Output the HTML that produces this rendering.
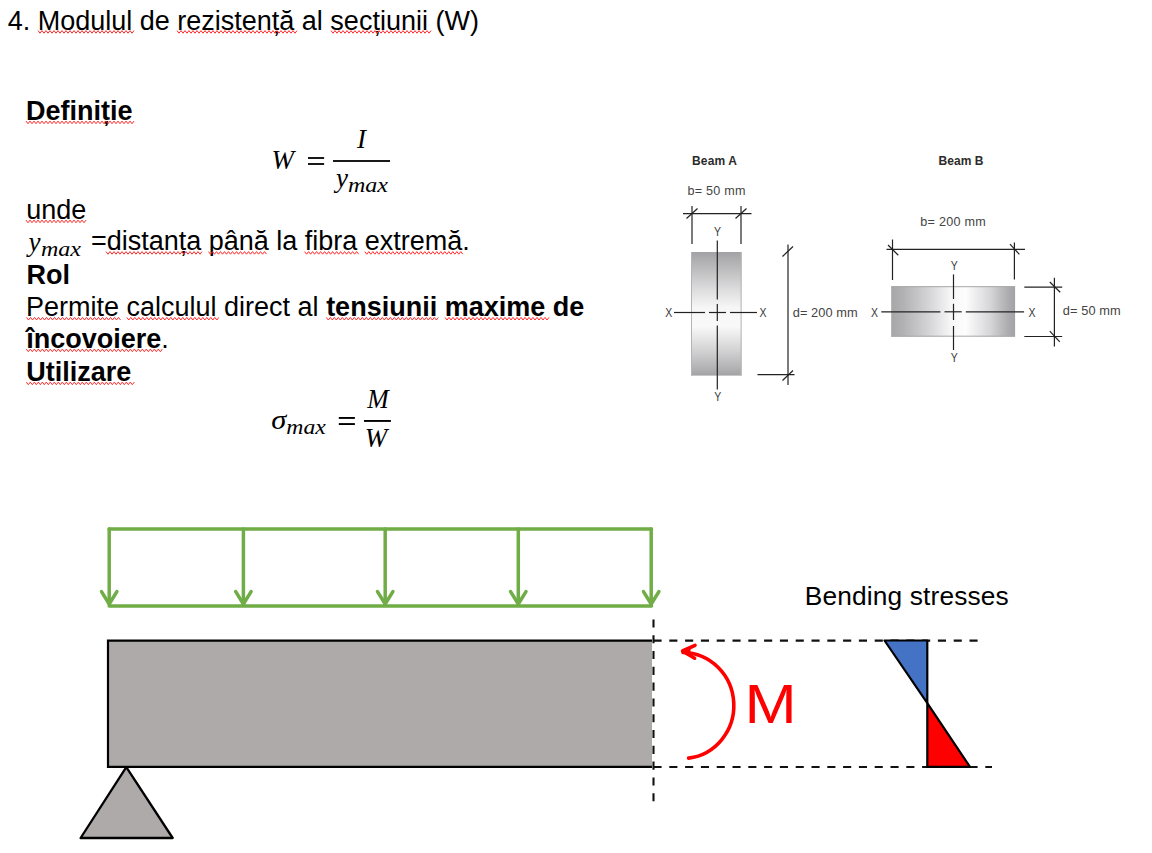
<!DOCTYPE html>
<html><head><meta charset="utf-8">
<style>
html,body{margin:0;padding:0;background:#fff;width:1152px;height:853px;overflow:hidden}
svg{display:block}
.s{font-family:"Liberation Sans",sans-serif}
.r{font-family:"Liberation Serif",serif;font-style:italic}
</style></head>
<body>
<svg width="1152" height="853" viewBox="0 0 1152 853">
<defs>
<linearGradient id="ga" x1="0" y1="0" x2="0" y2="1">
<stop offset="0" stop-color="#a2a2a4"/>
<stop offset="0.12" stop-color="#b9b9bb"/>
<stop offset="0.3" stop-color="#dcdcdd"/>
<stop offset="0.45" stop-color="#f6f6f6"/>
<stop offset="0.6" stop-color="#f9f9f9"/>
<stop offset="0.8" stop-color="#d2d2d3"/>
<stop offset="0.93" stop-color="#b4b4b6"/>
<stop offset="1" stop-color="#a2a2a4"/>
</linearGradient>
<linearGradient id="gb" x1="0" y1="0" x2="1" y2="0">
<stop offset="0" stop-color="#a6a6a8"/>
<stop offset="0.1" stop-color="#b2b2b4"/>
<stop offset="0.3" stop-color="#d4d4d6"/>
<stop offset="0.48" stop-color="#f6f6f6"/>
<stop offset="0.6" stop-color="#fdfdfd"/>
<stop offset="0.8" stop-color="#d6d6d8"/>
<stop offset="0.93" stop-color="#b0b0b2"/>
<stop offset="1" stop-color="#a2a2a4"/>
</linearGradient>
</defs>

<!-- Title -->
<text class="s" x="7.7" y="30" font-size="27">4. Modulul de rezistență al secțiunii (W)</text>

<text class="s" x="26" y="119.5" font-size="27" font-weight="bold">Definiție</text>

<!-- formula 1 -->
<text class="r" x="271.5" y="168.8" font-size="27">W</text>
<rect x="308" y="157.1" width="16.1" height="1.8"/>
<rect x="308" y="163.1" width="16.1" height="1.8"/>
<rect x="333" y="160.1" width="57" height="1.8"/>
<text class="r" x="357.1" y="148" font-size="27">I</text>
<text class="r" x="336.1" y="187" font-size="27">y</text>
<text class="r" x="348" y="191.8" font-size="20.5" textLength="40" lengthAdjust="spacingAndGlyphs">max</text>

<text class="s" x="26.2" y="219" font-size="27">unde</text>

<text class="r" x="28.6" y="251.2" font-size="27">y</text>
<text class="r" x="41" y="255.7" font-size="20.5" textLength="40" lengthAdjust="spacingAndGlyphs">max</text>
<text class="s" x="90.9" y="250" font-size="27">=distanța până la fibra extremă.</text>

<text class="s" x="26.4" y="284" font-size="27" font-weight="bold">Rol</text>
<text class="s" x="26" y="316" font-size="27">Permite calculul direct al <tspan font-weight="bold">tensiunii maxime de</tspan></text>
<text class="s" x="26.2" y="348" font-size="27"><tspan font-weight="bold">încovoiere</tspan>.</text>
<text class="s" x="26.2" y="381" font-size="27" font-weight="bold">Utilizare</text>

<!-- formula 2 -->
<text class="r" x="271.3" y="429.2" font-size="28" textLength="15" lengthAdjust="spacingAndGlyphs">σ</text>
<text class="r" x="286.3" y="434" font-size="20.5" textLength="39.5" lengthAdjust="spacingAndGlyphs">max</text>
<rect x="338.8" y="417" width="16.1" height="1.9"/>
<rect x="338.8" y="423.1" width="16.1" height="1.9"/>
<rect x="364" y="420" width="26.9" height="1.9"/>
<text class="r" x="367.3" y="408" font-size="27" textLength="21.5" lengthAdjust="spacingAndGlyphs">M</text>
<text class="r" x="364.7" y="446.8" font-size="27">W</text>

<!-- wavy underlines -->
<g fill="none" stroke="#ff2a2a" stroke-width="1">
<polyline points="38.0,30.6 40.0,33.2 42.0,30.6 44.0,33.2 46.0,30.6 48.0,33.2 50.0,30.6 52.0,33.2 54.0,30.6 56.0,33.2 58.0,30.6 60.0,33.2 62.0,30.6 64.0,33.2 66.0,30.6 68.0,33.2 70.0,30.6 72.0,33.2 74.0,30.6 76.0,33.2 78.0,30.6 80.0,33.2 82.0,30.6 84.0,33.2 86.0,30.6 88.0,33.2 90.0,30.6 92.0,33.2 94.0,30.6 96.0,33.2 98.0,30.6 100.0,33.2 102.0,30.6 104.0,33.2 106.0,30.6 108.0,33.2 110.0,30.6 112.0,33.2 114.0,30.6 116.0,33.2 118.0,30.6 120.0,33.2 122.0,30.6 124.0,33.2 126.0,30.6 128.0,33.2 130.0,30.6 132.0,33.2 134.0,30.6"/>
<polyline points="177.0,30.6 179.0,33.2 181.0,30.6 183.0,33.2 185.0,30.6 187.0,33.2 189.0,30.6 191.0,33.2 193.0,30.6 195.0,33.2 197.0,30.6 199.0,33.2 201.0,30.6 203.0,33.2 205.0,30.6 207.0,33.2 209.0,30.6 211.0,33.2 213.0,30.6 215.0,33.2 217.0,30.6 219.0,33.2 221.0,30.6 223.0,33.2 225.0,30.6 227.0,33.2 229.0,30.6 231.0,33.2 233.0,30.6 235.0,33.2 237.0,30.6 239.0,33.2 241.0,30.6 243.0,33.2 245.0,30.6 247.0,33.2 249.0,30.6 251.0,33.2 253.0,30.6 255.0,33.2 257.0,30.6 259.0,33.2 261.0,30.6 263.0,33.2 265.0,30.6 267.0,33.2 269.0,30.6 271.0,33.2 273.0,30.6 275.0,33.2 277.0,30.6 279.0,33.2 281.0,30.6 283.0,33.2 285.0,30.6 287.0,33.2 289.0,30.6 291.0,33.2 293.0,30.6 295.0,33.2 297.0,30.6"/>
<polyline points="331.0,30.6 333.0,33.2 335.0,30.6 337.0,33.2 339.0,30.6 341.0,33.2 343.0,30.6 345.0,33.2 347.0,30.6 349.0,33.2 351.0,30.6 353.0,33.2 355.0,30.6 357.0,33.2 359.0,30.6 361.0,33.2 363.0,30.6 365.0,33.2 367.0,30.6 369.0,33.2 371.0,30.6 373.0,33.2 375.0,30.6 377.0,33.2 379.0,30.6 381.0,33.2 383.0,30.6 385.0,33.2 387.0,30.6 389.0,33.2 391.0,30.6 393.0,33.2 395.0,30.6 397.0,33.2 399.0,30.6 401.0,33.2 403.0,30.6 405.0,33.2 407.0,30.6 409.0,33.2 411.0,30.6 413.0,33.2 415.0,30.6 417.0,33.2 419.0,30.6 421.0,33.2 423.0,30.6 425.0,33.2 427.0,30.6 429.0,33.2 431.0,30.6"/>
<polyline points="26.0,121.1 28.0,123.7 30.0,121.1 32.0,123.7 34.0,121.1 36.0,123.7 38.0,121.1 40.0,123.7 42.0,121.1 44.0,123.7 46.0,121.1 48.0,123.7 50.0,121.1 52.0,123.7 54.0,121.1 56.0,123.7 58.0,121.1 60.0,123.7 62.0,121.1 64.0,123.7 66.0,121.1 68.0,123.7 70.0,121.1 72.0,123.7 74.0,121.1 76.0,123.7 78.0,121.1 80.0,123.7 82.0,121.1 84.0,123.7 86.0,121.1 88.0,123.7 90.0,121.1 92.0,123.7 94.0,121.1 96.0,123.7 98.0,121.1 100.0,123.7 102.0,121.1 104.0,123.7 106.0,121.1 108.0,123.7 110.0,121.1 112.0,123.7 114.0,121.1 116.0,123.7 118.0,121.1 120.0,123.7 122.0,121.1 124.0,123.7 126.0,121.1 128.0,123.7 130.0,121.1 132.0,123.7 134.0,121.1"/>
<polyline points="26.0,220.1 28.0,222.7 30.0,220.1 32.0,222.7 34.0,220.1 36.0,222.7 38.0,220.1 40.0,222.7 42.0,220.1 44.0,222.7 46.0,220.1 48.0,222.7 50.0,220.1 52.0,222.7 54.0,220.1 56.0,222.7 58.0,220.1 60.0,222.7 62.0,220.1 64.0,222.7 66.0,220.1 68.0,222.7 70.0,220.1 72.0,222.7 74.0,220.1 76.0,222.7 78.0,220.1 80.0,222.7 82.0,220.1 84.0,222.7 86.0,220.1"/>
<polyline points="106.0,251.6 108.0,254.2 110.0,251.6 112.0,254.2 114.0,251.6 116.0,254.2 118.0,251.6 120.0,254.2 122.0,251.6 124.0,254.2 126.0,251.6 128.0,254.2 130.0,251.6 132.0,254.2 134.0,251.6 136.0,254.2 138.0,251.6 140.0,254.2 142.0,251.6 144.0,254.2 146.0,251.6 148.0,254.2 150.0,251.6 152.0,254.2 154.0,251.6 156.0,254.2 158.0,251.6 160.0,254.2 162.0,251.6 164.0,254.2 166.0,251.6 168.0,254.2 170.0,251.6 172.0,254.2 174.0,251.6 176.0,254.2 178.0,251.6 180.0,254.2 182.0,251.6 184.0,254.2 186.0,251.6 188.0,254.2 190.0,251.6 192.0,254.2 194.0,251.6 196.0,254.2 198.0,251.6 200.0,254.2 202.0,251.6"/>
<polyline points="208.5,251.6 210.5,254.2 212.5,251.6 214.5,254.2 216.5,251.6 218.5,254.2 220.5,251.6 222.5,254.2 224.5,251.6 226.5,254.2 228.5,251.6 230.5,254.2 232.5,251.6 234.5,254.2 236.5,251.6 238.5,254.2 240.5,251.6 242.5,254.2 244.5,251.6 246.5,254.2 248.5,251.6 250.5,254.2 252.5,251.6 254.5,254.2 256.5,251.6 258.5,254.2 260.5,251.6 262.5,254.2 264.5,251.6 266.5,254.2"/>
<polyline points="304.6,251.6 306.6,254.2 308.6,251.6 310.6,254.2 312.6,251.6 314.6,254.2 316.6,251.6 318.6,254.2 320.6,251.6 322.6,254.2 324.6,251.6 326.6,254.2 328.6,251.6 330.6,254.2 332.6,251.6 334.6,254.2 336.6,251.6 338.6,254.2 340.6,251.6 342.6,254.2 344.6,251.6 346.6,254.2 348.6,251.6 350.6,254.2 352.6,251.6 354.6,254.2 356.6,251.6 358.6,254.2"/>
<polyline points="364.8,251.6 366.8,254.2 368.8,251.6 370.8,254.2 372.8,251.6 374.8,254.2 376.8,251.6 378.8,254.2 380.8,251.6 382.8,254.2 384.8,251.6 386.8,254.2 388.8,251.6 390.8,254.2 392.8,251.6 394.8,254.2 396.8,251.6 398.8,254.2 400.8,251.6 402.8,254.2 404.8,251.6 406.8,254.2 408.8,251.6 410.8,254.2 412.8,251.6 414.8,254.2 416.8,251.6 418.8,254.2 420.8,251.6 422.8,254.2 424.8,251.6 426.8,254.2 428.8,251.6 430.8,254.2 432.8,251.6 434.8,254.2 436.8,251.6 438.8,254.2 440.8,251.6 442.8,254.2 444.8,251.6 446.8,254.2 448.8,251.6 450.8,254.2 452.8,251.6 454.8,254.2 456.8,251.6 458.8,254.2 460.8,251.6 462.8,254.2"/>
<polyline points="26.5,317.4 28.5,320.0 30.5,317.4 32.5,320.0 34.5,317.4 36.5,320.0 38.5,317.4 40.5,320.0 42.5,317.4 44.5,320.0 46.5,317.4 48.5,320.0 50.5,317.4 52.5,320.0 54.5,317.4 56.5,320.0 58.5,317.4 60.5,320.0 62.5,317.4 64.5,320.0 66.5,317.4 68.5,320.0 70.5,317.4 72.5,320.0 74.5,317.4 76.5,320.0 78.5,317.4 80.5,320.0 82.5,317.4 84.5,320.0 86.5,317.4 88.5,320.0 90.5,317.4 92.5,320.0 94.5,317.4 96.5,320.0 98.5,317.4 100.5,320.0 102.5,317.4 104.5,320.0 106.5,317.4 108.5,320.0 110.5,317.4 112.5,320.0 114.5,317.4 116.5,320.0 118.5,317.4 120.5,320.0"/>
<polyline points="126.8,317.4 128.8,320.0 130.8,317.4 132.8,320.0 134.8,317.4 136.8,320.0 138.8,317.4 140.8,320.0 142.8,317.4 144.8,320.0 146.8,317.4 148.8,320.0 150.8,317.4 152.8,320.0 154.8,317.4 156.8,320.0 158.8,317.4 160.8,320.0 162.8,317.4 164.8,320.0 166.8,317.4 168.8,320.0 170.8,317.4 172.8,320.0 174.8,317.4 176.8,320.0 178.8,317.4 180.8,320.0 182.8,317.4 184.8,320.0 186.8,317.4 188.8,320.0 190.8,317.4 192.8,320.0 194.8,317.4 196.8,320.0 198.8,317.4 200.8,320.0 202.8,317.4 204.8,320.0 206.8,317.4 208.8,320.0 210.8,317.4 212.8,320.0 214.8,317.4 216.8,320.0 218.8,317.4"/>
<polyline points="326.3,317.4 328.3,320.0 330.3,317.4 332.3,320.0 334.3,317.4 336.3,320.0 338.3,317.4 340.3,320.0 342.3,317.4 344.3,320.0 346.3,317.4 348.3,320.0 350.3,317.4 352.3,320.0 354.3,317.4 356.3,320.0 358.3,317.4 360.3,320.0 362.3,317.4 364.3,320.0 366.3,317.4 368.3,320.0 370.3,317.4 372.3,320.0 374.3,317.4 376.3,320.0 378.3,317.4 380.3,320.0 382.3,317.4 384.3,320.0 386.3,317.4 388.3,320.0 390.3,317.4 392.3,320.0 394.3,317.4 396.3,320.0 398.3,317.4 400.3,320.0 402.3,317.4 404.3,320.0 406.3,317.4 408.3,320.0 410.3,317.4 412.3,320.0 414.3,317.4 416.3,320.0 418.3,317.4 420.3,320.0 422.3,317.4 424.3,320.0 426.3,317.4 428.3,320.0 430.3,317.4 432.3,320.0 434.3,317.4 436.3,320.0 438.3,317.4"/>
<polyline points="445.0,317.4 447.0,320.0 449.0,317.4 451.0,320.0 453.0,317.4 455.0,320.0 457.0,317.4 459.0,320.0 461.0,317.4 463.0,320.0 465.0,317.4 467.0,320.0 469.0,317.4 471.0,320.0 473.0,317.4 475.0,320.0 477.0,317.4 479.0,320.0 481.0,317.4 483.0,320.0 485.0,317.4 487.0,320.0 489.0,317.4 491.0,320.0 493.0,317.4 495.0,320.0 497.0,317.4 499.0,320.0 501.0,317.4 503.0,320.0 505.0,317.4 507.0,320.0 509.0,317.4 511.0,320.0 513.0,317.4 515.0,320.0 517.0,317.4 519.0,320.0 521.0,317.4 523.0,320.0 525.0,317.4 527.0,320.0 529.0,317.4 531.0,320.0 533.0,317.4 535.0,320.0 537.0,317.4 539.0,320.0 541.0,317.4 543.0,320.0 545.0,317.4 547.0,320.0 549.0,317.4"/>
<polyline points="26.3,349.1 28.3,351.7 30.3,349.1 32.3,351.7 34.3,349.1 36.3,351.7 38.3,349.1 40.3,351.7 42.3,349.1 44.3,351.7 46.3,349.1 48.3,351.7 50.3,349.1 52.3,351.7 54.3,349.1 56.3,351.7 58.3,349.1 60.3,351.7 62.3,349.1 64.3,351.7 66.3,349.1 68.3,351.7 70.3,349.1 72.3,351.7 74.3,349.1 76.3,351.7 78.3,349.1 80.3,351.7 82.3,349.1 84.3,351.7 86.3,349.1 88.3,351.7 90.3,349.1 92.3,351.7 94.3,349.1 96.3,351.7 98.3,349.1 100.3,351.7 102.3,349.1 104.3,351.7 106.3,349.1 108.3,351.7 110.3,349.1 112.3,351.7 114.3,349.1 116.3,351.7 118.3,349.1 120.3,351.7 122.3,349.1 124.3,351.7 126.3,349.1 128.3,351.7 130.3,349.1 132.3,351.7 134.3,349.1 136.3,351.7 138.3,349.1 140.3,351.7 142.3,349.1 144.3,351.7 146.3,349.1 148.3,351.7 150.3,349.1 152.3,351.7 154.3,349.1 156.3,351.7 158.3,349.1 160.3,351.7 162.3,349.1"/>
<polyline points="26.3,382.1 28.3,384.7 30.3,382.1 32.3,384.7 34.3,382.1 36.3,384.7 38.3,382.1 40.3,384.7 42.3,382.1 44.3,384.7 46.3,382.1 48.3,384.7 50.3,382.1 52.3,384.7 54.3,382.1 56.3,384.7 58.3,382.1 60.3,384.7 62.3,382.1 64.3,384.7 66.3,382.1 68.3,384.7 70.3,382.1 72.3,384.7 74.3,382.1 76.3,384.7 78.3,382.1 80.3,384.7 82.3,382.1 84.3,384.7 86.3,382.1 88.3,384.7 90.3,382.1 92.3,384.7 94.3,382.1 96.3,384.7 98.3,382.1 100.3,384.7 102.3,382.1 104.3,384.7 106.3,382.1 108.3,384.7 110.3,382.1 112.3,384.7 114.3,382.1 116.3,384.7 118.3,382.1 120.3,384.7 122.3,382.1 124.3,384.7 126.3,382.1 128.3,384.7 130.3,382.1 132.3,384.7 134.3,382.1"/>
</g>

<!-- Beam A -->
<text class="s" x="692" y="164.7" font-size="12" font-weight="bold" fill="#2b2b2b" textLength="45">Beam A</text>
<text class="s" x="687.5" y="195.2" font-size="12.6" fill="#444" textLength="58">b= 50 mm</text>
<g stroke="#222" stroke-width="1.2" fill="none">
<line x1="683" y1="213.7" x2="751.5" y2="213.7"/>
<line x1="692" y1="206" x2="692" y2="244"/>
<line x1="741" y1="206" x2="741" y2="244"/>
<line x1="686.5" y1="218.5" x2="697.5" y2="208.5"/>
<line x1="735.5" y1="218.5" x2="746.5" y2="208.5"/>
</g>
<rect x="691" y="252" width="50.6" height="123.6" fill="url(#ga)"/>
<g stroke="#b4b4b6" stroke-width="1" fill="none"><line x1="691.5" y1="252" x2="691.5" y2="375.6"/><line x1="741.1" y1="252" x2="741.1" y2="375.6"/></g>
<g stroke="#222" stroke-width="1.2" fill="none">
<line x1="717.3" y1="240.5" x2="717.3" y2="299.5"/>
<line x1="717.3" y1="304" x2="717.3" y2="321"/>
<line x1="717.3" y1="325.5" x2="717.3" y2="389.5"/>
<line x1="674" y1="312.5" x2="705" y2="312.5"/>
<line x1="709" y1="312.5" x2="726" y2="312.5"/>
<line x1="730" y1="312.5" x2="757" y2="312.5"/>
<line x1="788" y1="244.5" x2="788" y2="385"/>
<line x1="782.5" y1="256.5" x2="793" y2="246.5"/>
<line x1="782.5" y1="380.5" x2="793" y2="370.5"/>
<line x1="757.5" y1="374.7" x2="794.5" y2="374.7"/>
</g>
<text class="s" x="0" y="0" font-size="12.8" fill="#3a3a3a" text-anchor="middle" transform="translate(717.4,236.4) scale(0.82,1)">Y</text>
<text class="s" x="0" y="0" font-size="12.8" fill="#3a3a3a" text-anchor="middle" transform="translate(717.7,400.6) scale(0.82,1)">Y</text>
<text class="s" x="0" y="0" font-size="12.8" fill="#3a3a3a" text-anchor="middle" transform="translate(668.8,317.2) scale(0.82,1)">X</text>
<text class="s" x="0" y="0" font-size="12.8" fill="#3a3a3a" text-anchor="middle" transform="translate(763.0,317.2) scale(0.82,1)">X</text>
<text class="s" x="792.7" y="316.6" font-size="12.8" fill="#444" textLength="65">d= 200 mm</text>

<!-- Beam B -->
<text class="s" x="938.5" y="165" font-size="12" font-weight="bold" fill="#2b2b2b" textLength="45">Beam B</text>
<text class="s" x="920.3" y="225.5" font-size="12.6" fill="#444" textLength="65.5">b= 200 mm</text>
<g stroke="#222" stroke-width="1.2" fill="none">
<line x1="886.5" y1="249.4" x2="1025" y2="249.4"/>
<line x1="892.5" y1="239.5" x2="892.5" y2="280"/>
<line x1="1014.4" y1="242.5" x2="1014.4" y2="279.6"/>
<line x1="888" y1="245" x2="898.3" y2="255.2"/>
<line x1="1010" y1="244.2" x2="1019.4" y2="254.4"/>
</g>
<rect x="891.2" y="286.2" width="123.9" height="50.5" fill="url(#gb)"/>
<g stroke="#a8a8aa" stroke-width="1" fill="none"><line x1="891.2" y1="286.7" x2="1015.1" y2="286.7"/><line x1="891.2" y1="336.2" x2="1015.1" y2="336.2"/></g>
<g stroke="#222" stroke-width="1.2" fill="none">
<line x1="953.5" y1="274.4" x2="953.5" y2="299"/>
<line x1="953.5" y1="303.8" x2="953.5" y2="320"/>
<line x1="953.5" y1="326" x2="953.5" y2="350"/>
<line x1="881.3" y1="311.8" x2="940.4" y2="311.8"/>
<line x1="944.5" y1="311.8" x2="961.7" y2="311.8"/>
<line x1="965.8" y1="311.8" x2="1024.1" y2="311.8"/>
<line x1="1054.4" y1="277.8" x2="1054.4" y2="346.4"/>
<line x1="1024.3" y1="287.1" x2="1062.2" y2="287.1"/>
<line x1="1024.3" y1="336.5" x2="1062.2" y2="336.5"/>
<line x1="1049.8" y1="282" x2="1060.2" y2="292.3"/>
<line x1="1049.8" y1="331.2" x2="1059.8" y2="341.8"/>
</g>
<text class="s" x="0" y="0" font-size="12.8" fill="#3a3a3a" text-anchor="middle" transform="translate(954.3,270.3) scale(0.82,1)">Y</text>
<text class="s" x="0" y="0" font-size="12.8" fill="#3a3a3a" text-anchor="middle" transform="translate(954.3,362.2) scale(0.82,1)">Y</text>
<text class="s" x="0" y="0" font-size="12.8" fill="#3a3a3a" text-anchor="middle" transform="translate(874.5,317.0) scale(0.82,1)">X</text>
<text class="s" x="0" y="0" font-size="12.8" fill="#3a3a3a" text-anchor="middle" transform="translate(1031.9,317.0) scale(0.82,1)">X</text>
<text class="s" x="1062.7" y="315.4" font-size="12.8" fill="#444" textLength="58">d= 50 mm</text>

<!-- Bottom diagram -->
<g stroke="#70ad47" stroke-width="3.5" fill="none" stroke-linecap="round" stroke-linejoin="round">
<path d="M109.2,528.9 H651.5 M109.2,605.9 H651.5"/>
<path d="M109.2,528.9 V604"/>
<path d="M243.4,528.9 V604"/>
<path d="M385.2,528.9 V604"/>
<path d="M518.3,528.9 V604"/>
<path d="M651.2,528.9 V604"/>
<path d="M101.5,591.6 L109.2,604 L116.9,591.6"/>
<path d="M235.7,591.6 L243.4,604 L251.1,591.6"/>
<path d="M377.5,591.6 L385.2,604 L392.9,591.6"/>
<path d="M510.6,591.6 L518.3,604 L526,591.6"/>
<path d="M643.5,591.6 L651.2,604 L658.9,591.6"/>
</g>

<path d="M652,640.6 H108 V766.9 H652" fill="#aeaaaa" stroke="#000" stroke-width="2.2"/>
<polygon points="126.3,767.2 80.6,838 172.7,838" fill="#aeaaaa" stroke="#000" stroke-width="2.3" stroke-linejoin="round"/>

<g stroke="#111" stroke-width="2.1" fill="none" stroke-dasharray="8.1 7.7">
<line x1="653.5" y1="619.4" x2="653.5" y2="803"/>
<line x1="653.5" y1="640.6" x2="980" y2="640.6"/>
<line x1="653.5" y1="767" x2="992" y2="767"/>
</g>

<!-- moment arrow -->
<g stroke="#ff0000" stroke-width="3.6" fill="none" stroke-linecap="round" stroke-linejoin="round">
<path d="M688.6,758.1 A51.5,53 0 0 0 683,652.5"/>
<path d="M695,645.3 L682.6,651 L694.6,658.2"/><path d="M683.5,651 L688.8,648.6 L688.5,654.2 Z" fill="#ff0000"/>
</g>
<text class="s" x="0" y="0" font-size="54.5" fill="#ff0000" transform="translate(744.6,723) scale(1.15,1.01)">M</text>

<text class="s" x="804.7" y="604.6" font-size="26.3" fill="#000" textLength="204">Bending stresses</text>

<polygon points="884.5,640.5 927.3,640.5 927.3,703.2" fill="#4472c4" stroke="#000" stroke-width="2.2" stroke-linejoin="round"/>
<polygon points="927.3,703.2 927.3,766.9 970,766.9" fill="#ff0000" stroke="#000" stroke-width="2.2" stroke-linejoin="round"/>
</svg>
</body></html>
